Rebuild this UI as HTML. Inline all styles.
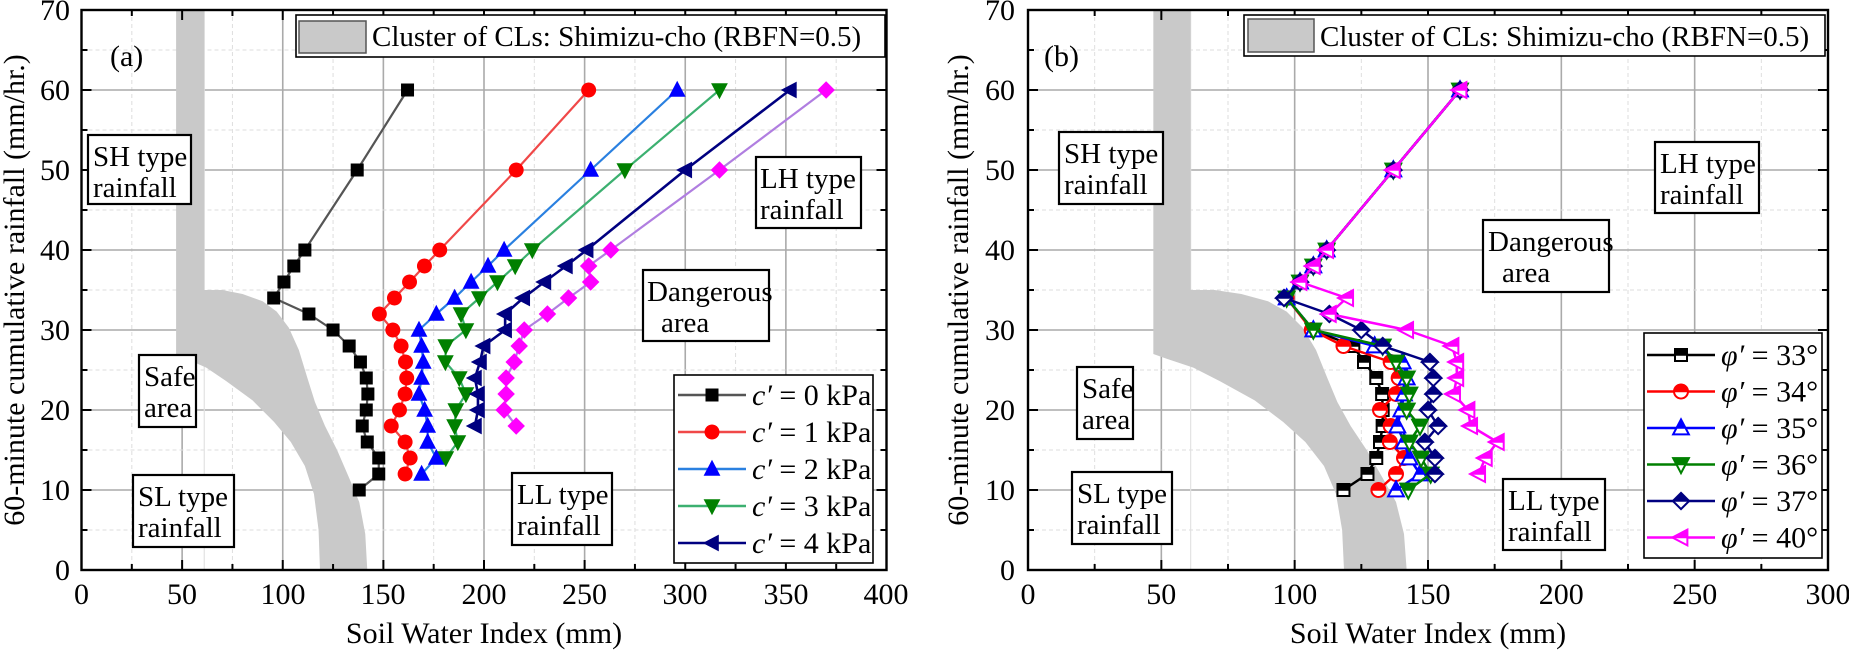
<!DOCTYPE html>
<html><head><meta charset="utf-8">
<style>
html,body{margin:0;padding:0;background:#fff;}
svg{display:block;}
svg text{font-family:"Liberation Serif","Times New Roman","DejaVu Serif",serif;fill:#000;}
</style></head>
<body>
<svg id="s" width="1849" height="651" viewBox="0 0 1849 651" xmlns="http://www.w3.org/2000/svg" style="position:absolute;left:0;top:0" font-family="Liberation Serif, Times New Roman, DejaVu Serif, serif">
<rect width="1849" height="651" fill="#fff"/>
<g id="grid"></g>
<g id="band"></g>
<g id="data"></g>
<g id="frame"></g>
<g id="boxes" fill="#fff" stroke="#000" stroke-width="2.2"></g>
<g id="legs"></g>

<g font-size="30" font-family="Liberation Serif, Times New Roman, DejaVu Serif, serif">
<text x="70" y="580" text-anchor="end">0</text>
<text x="70" y="500" text-anchor="end">10</text>
<text x="70" y="420" text-anchor="end">20</text>
<text x="70" y="340" text-anchor="end">30</text>
<text x="70" y="260" text-anchor="end">40</text>
<text x="70" y="180" text-anchor="end">50</text>
<text x="70" y="100" text-anchor="end">60</text>
<text x="70" y="20" text-anchor="end">70</text>
<text x="81.5" y="604" text-anchor="middle">0</text>
<text x="182" y="604" text-anchor="middle">50</text>
<text x="283" y="604" text-anchor="middle">100</text>
<text x="383" y="604" text-anchor="middle">150</text>
<text x="484" y="604" text-anchor="middle">200</text>
<text x="584.5" y="604" text-anchor="middle">250</text>
<text x="685" y="604" text-anchor="middle">300</text>
<text x="786" y="604" text-anchor="middle">350</text>
<text x="886" y="604" text-anchor="middle">400</text>
<text x="484" y="643" text-anchor="middle">Soil Water Index (mm)</text>
<text transform="translate(24,290) rotate(-90)" text-anchor="middle">60-minute cumulative rainfall (mm/hr.)</text>

<text x="1015" y="580" text-anchor="end">0</text>
<text x="1015" y="500" text-anchor="end">10</text>
<text x="1015" y="420" text-anchor="end">20</text>
<text x="1015" y="340" text-anchor="end">30</text>
<text x="1015" y="260" text-anchor="end">40</text>
<text x="1015" y="180" text-anchor="end">50</text>
<text x="1015" y="100" text-anchor="end">60</text>
<text x="1015" y="20" text-anchor="end">70</text>
<text x="1028" y="604" text-anchor="middle">0</text>
<text x="1161.3" y="604" text-anchor="middle">50</text>
<text x="1294.7" y="604" text-anchor="middle">100</text>
<text x="1428" y="604" text-anchor="middle">150</text>
<text x="1561.3" y="604" text-anchor="middle">200</text>
<text x="1694.7" y="604" text-anchor="middle">250</text>
<text x="1828" y="604" text-anchor="middle">300</text>
<text x="1428" y="643" text-anchor="middle">Soil Water Index (mm)</text>
<text transform="translate(968,290) rotate(-90)" text-anchor="middle">60-minute cumulative rainfall (mm/hr.)</text>

<text x="110" y="66">(a)</text>
<text x="1044" y="66">(b)</text>
<text x="372" y="46" font-size="29">Cluster of CLs: Shimizu-cho (RBFN=0.5)</text>
<text x="1320" y="46" font-size="29">Cluster of CLs: Shimizu-cho (RBFN=0.5)</text>
<g font-size="29">
<text x="93" y="166">SH type</text><text x="93" y="197">rainfall</text>
<text x="144" y="386">Safe</text><text x="144" y="417">area</text>
<text x="138" y="506">SL type</text><text x="138" y="537">rainfall</text>
<text x="517" y="504">LL type</text><text x="517" y="535">rainfall</text>
<text x="647" y="301">Dangerous</text><text x="661" y="332">area</text>
<text x="760" y="188">LH type</text><text x="760" y="219">rainfall</text>
<text x="1064" y="163">SH type</text><text x="1064" y="194">rainfall</text>
<text x="1082" y="398">Safe</text><text x="1082" y="429">area</text>
<text x="1077" y="503">SL type</text><text x="1077" y="534">rainfall</text>
<text x="1508" y="510">LL type</text><text x="1508" y="541">rainfall</text>
<text x="1488" y="251">Dangerous</text><text x="1502" y="282">area</text>
<text x="1660" y="173">LH type</text><text x="1660" y="204">rainfall</text>
</g>
<g font-size="30">
<text x="752" y="405"><tspan font-style="italic">c′</tspan> = 0 kPa</text>
<text x="752" y="442"><tspan font-style="italic">c′</tspan> = 1 kPa</text>
<text x="752" y="479"><tspan font-style="italic">c′</tspan> = 2 kPa</text>
<text x="752" y="516"><tspan font-style="italic">c′</tspan> = 3 kPa</text>
<text x="752" y="553"><tspan font-style="italic">c′</tspan> = 4 kPa</text>
<text x="1721" y="365"><tspan font-style="italic">φ′</tspan> = 33°</text>
<text x="1721" y="401.5"><tspan font-style="italic">φ′</tspan> = 34°</text>
<text x="1721" y="438"><tspan font-style="italic">φ′</tspan> = 35°</text>
<text x="1721" y="474.5"><tspan font-style="italic">φ′</tspan> = 36°</text>
<text x="1721" y="511"><tspan font-style="italic">φ′</tspan> = 37°</text>
<text x="1721" y="547.5"><tspan font-style="italic">φ′</tspan> = 40°</text>
</g>
</g>
</svg>
<script>
(function(){
const NS="http://www.w3.org/2000/svg";
function el(p,t,a){const e=document.createElementNS(NS,t);for(const k in a)e.setAttribute(k,a[k]);p.appendChild(e);return e;}
const G=id=>document.getElementById(id);
const L={x0:81.5,sx:2.0125}, R={x0:1028,sx:2.66667};
const Y=v=>570-8*v;
const P=[L,R];
const grid=G('grid'), frame=G('frame'), band=G('band'), data=G('data'), legs=G('legs');

P.forEach((p,i)=>{
  const xmax=i==0?400:300, xr=p.x0+xmax*p.sx;
  for(let v=25;v<xmax;v+=25){
    const x=p.x0+v*p.sx, maj=v%50==0;
    el(grid,'line',{x1:x,y1:10,x2:x,y2:570,stroke:maj?'#aaaaaa':'#dedede','stroke-width':maj?1.6:1,'stroke-dasharray':maj?'none':'4,3'});
  }
  for(let v=5;v<70;v+=5){
    const y=Y(v), maj=v%10==0;
    el(grid,'line',{x1:p.x0,y1:y,x2:xr,y2:y,stroke:maj?'#aaaaaa':'#dedede','stroke-width':maj?1.6:1,'stroke-dasharray':maj?'none':'4,3'});
  }
  el(grid,'line',{x1:p.x0+61*p.sx,y1:10,x2:p.x0+61*p.sx,y2:570,stroke:'#e2e2e2','stroke-width':1.2});
  el(frame,'rect',{x:p.x0,y:10,width:xr-p.x0,height:560,fill:'none',stroke:'#000','stroke-width':2.4});
  for(let v=25;v<xmax;v+=25){
    const x=p.x0+v*p.sx, l=v%50==0?10:6;
    el(frame,'line',{x1:x,y1:570,x2:x,y2:570-l,stroke:'#000','stroke-width':2});
    el(frame,'line',{x1:x,y1:10,x2:x,y2:10+l,stroke:'#000','stroke-width':2});
  }
  for(let v=5;v<70;v+=5){
    const y=Y(v), l=v%10==0?10:6;
    el(frame,'line',{x1:p.x0,y1:y,x2:p.x0+l,y2:y,stroke:'#000','stroke-width':2});
    el(frame,'line',{x1:xr,y1:y,x2:xr-l,y2:y,stroke:'#000','stroke-width':2});
  }
  const poly=[[47,70],[61,70],[61,35],[70,35],[80,34.5],[90,33.6],[97,32.3],[103,30.3],[108,27.5],[112,24.2],[116,21],[121,18],[127,15],[133,11.5],[138,8.5],[141,4.5],[142,0],[118.5,0],[117.8,5],[115.5,9.5],[111,13],[104,16],[95.7,18.5],[85,21.2],[72,23.6],[62,25.3],[52,26.4],[47,27]];
  el(band,'polygon',{points:poly.map(q=>(p.x0+q[0]*p.sx)+','+Y(q[1])).join(' '),fill:'#c9c9c9'});
});

function shape(t,s){
  if(t=='sq')return [[-s,-s],[s,-s],[s,s],[-s,s]];
  if(t=='ci'){const a=[];for(let i=0;i<28;i++){const th=i/28*2*Math.PI;a.push([s*Math.cos(th),s*Math.sin(th)]);}return a;}
  if(t=='up')return [[0,-1.15*s],[1.05*s,0.85*s],[-1.05*s,0.85*s]];
  if(t=='dn')return [[-1.05*s,-0.85*s],[1.05*s,-0.85*s],[0,1.15*s]];
  if(t=='lt')return [[-1.15*s,0],[0.85*s,-1.05*s],[0.85*s,1.05*s]];
  if(t=='di')return [[0,-1.25*s],[1.25*s,0],[0,1.25*s],[-1.25*s,0]];
}
function clipTop(pts){
  const out=[];for(let i=0;i<pts.length;i++){const a=pts[i],b=pts[(i+1)%pts.length];
    const ain=a[1]<=0,bin=b[1]<=0;
    if(ain)out.push(a);
    if(ain!=bin){const t=a[1]/(a[1]-b[1]);out.push([a[0]+t*(b[0]-a[0]),0]);}
  }return out;}
const ps=(pts,cx,cy)=>pts.map(q=>(cx+q[0])+','+(cy+q[1])).join(' ');
function marker(par,mt,mc,s,half,cx,cy){
  const sh=shape(mt,s);
  if(!half){el(par,'polygon',{points:ps(sh,cx,cy),fill:mc});}
  else{
    el(par,'polygon',{points:ps(sh,cx,cy),fill:'#fff',stroke:mc,'stroke-width':2});
    el(par,'polygon',{points:ps(clipTop(sh),cx,cy),fill:mc,stroke:mc,'stroke-width':1.5});
  }
}
function series(p,pts,lc,lw,mt,mc,s,half){
  const xy=pts.map(q=>[p.x0+q[0]*p.sx,Y(q[1])]);
  el(data,'polyline',{points:xy.map(q=>q.join(',')).join(' '),fill:'none',stroke:lc,'stroke-width':lw,'stroke-linejoin':'round'});
  xy.forEach(q=>marker(data,mt,mc,s,half,q[0],q[1]));
}
const c0=[[162,60],[137,50],[111,40],[105.5,38],[100.6,36],[95.5,34],[113,32],[125,30],[133,28],[138.6,26],[141.5,24],[142.3,22],[141.5,20],[139.5,18],[142,16],[147.7,14],[147.7,12],[138,10]];
const c1=[[252,60],[216,50],[178,40],[170.4,38],[163,36],[155.5,34],[148,32],[154.7,30],[158.8,28],[161,26],[161.6,24],[160.8,22],[158,20],[153.9,18],[160.8,16],[163.3,14],[160.8,12]];
const c2=[[296,60],[253,50],[210,40],[202,38],[193.6,36],[185.4,34],[176.3,32],[167.7,30],[169,28],[169.8,26],[169,24],[167.7,22],[170.5,20],[172,18],[172,16],[176.3,14],[169,12]];
const c3=[[317,60],[270,50],[224,40],[215.5,38],[206.7,36],[197.7,34],[188.6,32],[191,30],[181,28],[180.8,26],[187.7,24],[191,22],[186,20],[185.4,18],[187,16],[181,14]];
const c4=[[352,60],[300,50],[251,40],[240.7,38],[230,36],[219.5,34],[210.5,32],[210.5,30],[199.8,28],[198,26],[195.5,24],[197,22],[197,20],[195.5,18]];
const c5=[[370,60],[317,50],[263,40],[252,38],[253,36],[242,34],[231.5,32],[220,30],[217.5,28],[215,26],[211,24],[211,22],[210,20],[216,18]];
series(L,c0,'#555','2.2','sq','#000',6.5,false);
series(L,c1,'#f04848','2.2','ci','#ff0000',7.5,false);
series(L,c2,'#2a80e0','2.2','up','#0000ff',8,false);
series(L,c3,'#3cb070','2.2','dn','#008000',8,false);
series(L,c4,'#000080','2.6','lt','#000080',8,false);
series(L,c5,'#b07ee0','2.2','di','#ff00ff',7,false);

const topPts=[[162,60],[137,50],[112,40],[107,38],[102,36]];
const r33=topPts.concat([[97,34],[107,30],[122,28],[126,26],[130.6,24],[132.8,22],[133,20],[133,18],[132,16],[130.6,14],[127.3,12],[118.3,10]]);
const r34=topPts.concat([[97,34],[106.4,30],[118.3,28],[136,26],[139,24],[138,22],[132,20],[136,18],[135.7,16],[141,14],[138,12],[131.4,10]]);
const r35=topPts.concat([[97,34],[107,30],[130,28],[140.5,26],[142,24],[141,22],[140,20],[138.5,18],[141,16],[143,14],[147,12],[138,10]]);
const r36=topPts.concat([[97,34],[107,30],[133,28],[138,26],[142,24],[143,22],[142,20],[147,18],[143,16],[147.4,14],[151,12],[142.6,10]]);
const r37=topPts.concat([[96,34],[113,32],[125,30],[133,28],[150.7,26],[152,24],[152,22],[150,20],[153.8,18],[148.8,16],[152.6,14],[152.6,12]]);
const r40=topPts.concat([[119.5,34],[113,32],[142,30],[159,28],[160.8,26],[160.8,24],[159.6,22],[165,20],[166,18],[176,16],[171.5,14],[169,12]]);
series(R,r33,'#000','2.5','sq','#000',6,true);
series(R,r34,'#ff0000','2.5','ci','#ff0000',7,true);
series(R,r35,'#0000ff','2.5','up','#0000ff',7.5,true);
series(R,r36,'#008000','2.5','dn','#008000',7.5,true);
series(R,r37,'#000080','2.5','di','#000080',6.5,true);
series(R,r40,'#ff00ff','2.5','lt','#ff00ff',7.5,true);

const B=G('boxes');
const bx=[[88,135,103,69],[139,355,57,72],[133,475,101,72],[512,473,100,72],[643,270,126,71],[756,157,105,71],
          [1059,132,104,72],[1077,367,56,72],[1072,472,100,72],[1503,479,102,71],[1483,220,126,72],[1655,142,104,71]];
bx.forEach(b=>el(B,'rect',{x:b[0],y:b[1],width:b[2],height:b[3]}));
el(B,'rect',{x:296,y:15,width:589,height:42,'stroke-width':1.6});
el(B,'rect',{x:299,y:21,width:67,height:32,fill:'#c9c9c9',stroke:'#555','stroke-width':1.5});
el(B,'rect',{x:1244,y:15,width:581,height:41,'stroke-width':1.6});
el(B,'rect',{x:1248,y:19,width:66,height:33,fill:'#c9c9c9',stroke:'#555','stroke-width':1.5});
el(B,'rect',{x:674,y:375,width:199,height:188,'stroke-width':1.6});
el(B,'rect',{x:1644,y:333,width:178,height:225,'stroke-width':1.6});

function legsym(x1,x2,y,lc,mt,mc,s,half,lw){
  el(legs,'line',{x1:x1,y1:y,x2:x2,y2:y,stroke:lc,'stroke-width':lw});
  marker(legs,mt,mc,s,half,(x1+x2)/2,y);
}
const ly=[395,432,469,506,543];
[['#555','sq','#000',6.5],['#f04848','ci','#ff0000',7.5],['#2a80e0','up','#0000ff',8],['#3cb070','dn','#008000',8],['#000080','lt','#000080',8]]
 .forEach((a,i)=>legsym(678,746,ly[i],a[0],a[1],a[2],a[3],false,2.4));
const ry=[355,391.5,428,464.5,501,537.5];
[['#000','sq','#000',6],['#ff0000','ci','#ff0000',7],['#0000ff','up','#0000ff',7.5],['#008000','dn','#008000',7.5],['#000080','di','#000080',6.5],['#ff00ff','lt','#ff00ff',7.5]]
 .forEach((a,i)=>legsym(1647,1715,ry[i],a[0],a[1],a[2],a[3],true,2.5));
})();
</script>
</body></html>
